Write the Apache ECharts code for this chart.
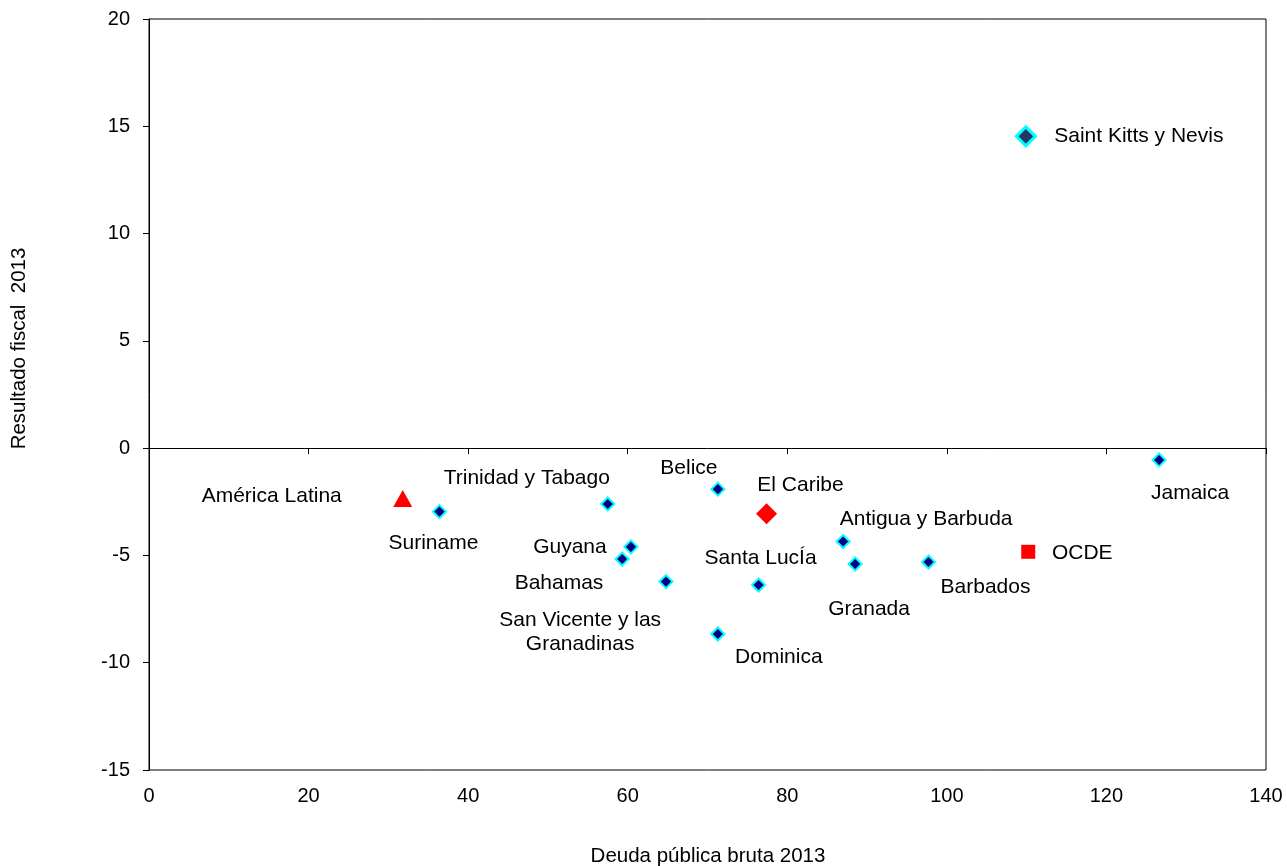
<!DOCTYPE html>
<html>
<head>
<meta charset="utf-8">
<script src="https://cdn.jsdelivr.net/npm/echarts@6/dist/echarts.min.js"></script>
<style>
html,body{margin:0;padding:0;background:#fff;overflow:hidden;}
#chart{width:1287px;height:866px;}
</style>
</head>
<body>
<div id="chart"></div>
<script>
// ---- data ----
const countryNames = ['Jamaica','Suriname','Trinidad y Tabago','Belice','Guyana','San Vicente y las\nGranadinas','Bahamas','Santa LucÍa','Dominica','Antigua y Barbuda','Granada','Barbados'];
const countryDebt  = [126.6, 36.4, 57.5, 71.3, 60.4, 59.3, 64.8, 76.4, 71.3, 87.0, 88.5, 97.7];
const countryFiscal= [-0.55, -2.96, -2.6, -1.91, -4.6, -5.17, -6.22, -6.38, -8.66, -4.35, -5.40, -5.31];
const skName = ['Saint Kitts y Nevis'];
const skDebt = [109.9];
const skFiscal = [14.53];
const caribeName = ['El Caribe'];
const caribeDebt = [77.4];
const caribeFiscal = [-3.06];
const alName = ['América Latina'];
const alDebt = [31.8];
const alFiscal = [-2.35];
const ocdeName = ['OCDE'];
const ocdeDebt = [110.2];
const ocdeFiscal = [-4.83];
const xTicks = [0, 20, 40, 60, 80, 100, 120, 140];
const yTicks = [-15, -10, -5, 0, 5, 10, 15, 20];
const xTitle = 'Deuda pública bruta 2013';
const yTitle = 'Resultado fiscal  2013';

// ---- label layout (offset of label centre from the point, px) ----
const labelOffsets = {
  'Jamaica':[31,33], 'Suriname':[-6,32], 'Trinidad y Tabago':[-81,-26], 'Belice':[-29,-21],
  'Guyana':[-61,0], 'San Vicente y las\nGranadinas':[-42,73], 'Bahamas':[-107,2],
  'Santa LucÍa':[2,-27], 'Dominica':[61,23], 'Antigua y Barbuda':[83,-22], 'Granada':[14,45],
  'Barbados':[57,25], 'Saint Kitts y Nevis':[113,0], 'El Caribe':[34,-29],
  'América Latina':[-131,-2], 'OCDE':[54,1]
};

const FONT = "'Liberation Sans', Arial, sans-serif";
function build(names, xs, ys){
  return names.map((n,i)=>({
    name:n, value:[xs[i], ys[i]],
    label:{show:true, position:'inside', offset:labelOffsets[n]||[0,0], formatter:n,
      color:'#000', fontSize:21, fontFamily:FONT, lineHeight:24, align:'center', verticalAlign:'middle'}
  }));
}

const chart = echarts.init(document.getElementById('chart'), null, {renderer:'canvas', width:1287, height:866});
const gridRect = {left:149, top:19, width:1117, height:751};
const option = {
  backgroundColor:'#fff',
  animation:false,
  grid:[
    Object.assign({show:true, borderColor:'#000', borderWidth:1, backgroundColor:'transparent', containLabel:false}, gridRect),
    Object.assign({show:false, containLabel:false}, gridRect)
  ],
  xAxis:[
    {type:'value', gridIndex:0, min:xTicks[0], max:xTicks[xTicks.length-1], interval:20, position:'bottom',
     axisLine:{show:false, onZero:false}, axisTick:{show:false}, splitLine:{show:false},
     axisLabel:{color:'#000', fontSize:20, fontFamily:FONT, margin:16}},
    {type:'value', gridIndex:1, min:xTicks[0], max:xTicks[xTicks.length-1], interval:20, position:'bottom',
     axisLine:{show:true, onZero:true, lineStyle:{color:'#000', width:1}},
     axisTick:{show:true, inside:false, length:6, lineStyle:{color:'#000'}},
     axisLabel:{show:false}, splitLine:{show:false}}
  ],
  yAxis:[
    {type:'value', gridIndex:0, min:yTicks[0], max:yTicks[yTicks.length-1], interval:5,
     axisLine:{show:true, onZero:false, lineStyle:{color:'#000', width:1}},
     axisTick:{show:true, length:6, lineStyle:{color:'#000'}},
     axisLabel:{color:'#000', fontSize:20, fontFamily:FONT, margin:19},
     splitLine:{show:false}},
    {type:'value', gridIndex:1, min:yTicks[0], max:yTicks[yTicks.length-1], interval:5, show:false}
  ],
  graphic:[
    {type:'text', x:19, y:348.5, rotation:Math.PI/2,
     style:{text:yTitle, fill:'#000', font:"20.5px 'Liberation Sans', Arial, sans-serif", align:'center', verticalAlign:'middle'}},
    {type:'text', x:708, y:856,
     style:{text:xTitle, fill:'#000', font:"20.5px 'Liberation Sans', Arial, sans-serif", align:'center', verticalAlign:'middle'}}
  ],
  series:[
    {type:'scatter', name:'countries', xAxisIndex:0, yAxisIndex:0, symbol:'diamond', symbolSize:13,
     itemStyle:{color:'#000080', borderColor:'#00ffff', borderWidth:2, opacity:1},
     data:build(countryNames, countryDebt, countryFiscal), z:3},
    {type:'scatter', name:'sk', xAxisIndex:0, yAxisIndex:0, symbol:'diamond', symbolSize:19,
     itemStyle:{color:'#1f3864', borderColor:'#00ffff', borderWidth:3, opacity:1},
     data:build(skName, skDebt, skFiscal), z:3},
    {type:'scatter', name:'caribe', xAxisIndex:0, yAxisIndex:0, symbol:'diamond', symbolSize:21,
     itemStyle:{color:'#ff0000', opacity:1}, data:build(caribeName, caribeDebt, caribeFiscal), z:3},
    {type:'scatter', name:'al', xAxisIndex:0, yAxisIndex:0, symbol:'triangle', symbolSize:[19,17],
     itemStyle:{color:'#ff0000', opacity:1}, data:build(alName, alDebt, alFiscal), z:3},
    {type:'scatter', name:'ocde', xAxisIndex:0, yAxisIndex:0, symbol:'rect', symbolSize:14,
     itemStyle:{color:'#ff0000', opacity:1}, data:build(ocdeName, ocdeDebt, ocdeFiscal), z:3}
  ]
};
chart.setOption(option);
</script>
</body>
</html>
